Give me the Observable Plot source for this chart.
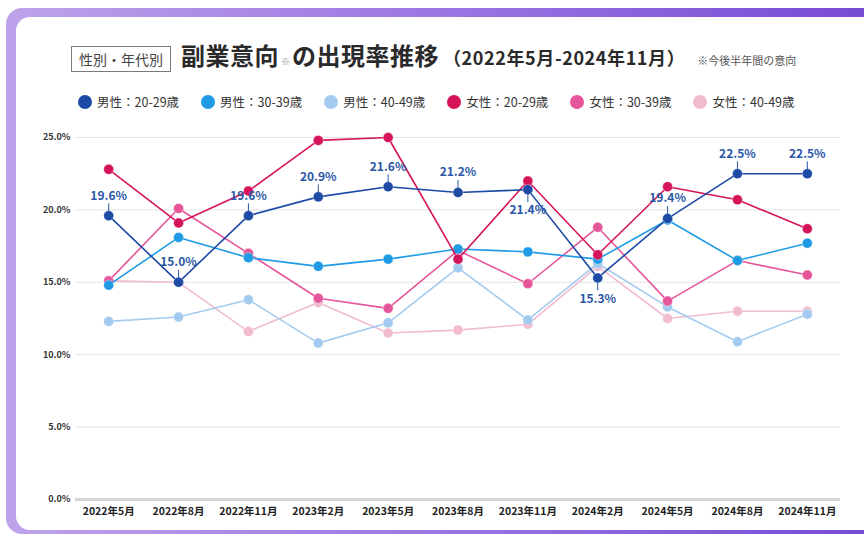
<!DOCTYPE html>
<html><head><meta charset="utf-8">
<script src="https://cdn.jsdelivr.net/npm/d3@7"></script>
<script src="https://cdn.jsdelivr.net/npm/@observablehq/plot@0.6"></script>
<style>
html,body{margin:0;padding:0;}
body{width:864px;height:537px;position:relative;overflow:hidden;background:#fff;font-family:"Noto Sans CJK JP","Noto Sans",sans-serif;}
#frame{position:absolute;left:6px;top:8px;right:-40px;bottom:3px;background:linear-gradient(90deg,#bda3ea,#9a74e2 50%,#7547d3);border-radius:16px;}
#card{position:absolute;left:16px;top:17px;right:-30px;bottom:7px;background:#fff;border-radius:14px;}
#title{position:absolute;left:71px;top:42px;display:flex;align-items:baseline;white-space:nowrap;color:#2a2a2a;}
.badge{border:1px solid #7a7a7a;font-size:14px;line-height:20px;padding:2px 7px;color:#444;}
.main{font-size:24px;font-weight:bold;line-height:26px;margin-left:10px;letter-spacing:0.5px;}
.kome{font-size:9px;font-weight:normal;color:#888;margin:0 2px;letter-spacing:0;}
.period{font-size:18px;font-weight:bold;margin-left:4px;letter-spacing:0.6px;}
.note{font-size:11px;color:#555;margin-left:12px;}
#legend{position:absolute;left:78px;top:92px;display:flex;align-items:center;white-space:nowrap;}
.item{display:flex;align-items:center;margin-right:22px;font-size:12.5px;color:#333;}
.sw{width:14px;height:14px;border-radius:50%;margin-right:5px;}
#chart{position:absolute;left:0;top:120px;}
</style>
</head><body>
<div id="frame"></div>
<div id="card"></div>
<div id="title"><span class="badge">性別・年代別</span><span class="main">副業意向<span class="kome">※</span>の出現率推移</span><span class="period">（2022年5月-2024年11月）</span><span class="note">※今後半年間の意向</span></div>
<div id="legend"></div>
<div id="chart"></div>
<script>
const dates = ["2022年5月","2022年8月","2022年11月","2023年2月","2023年5月","2023年8月","2023年11月","2024年2月","2024年5月","2024年8月","2024年11月"];
const seriesNames = ["男性：20-29歳","男性：30-39歳","男性：40-49歳","女性：20-29歳","女性：30-39歳","女性：40-49歳"];
const seriesColors = ["#1c4aa5","#1f9be6","#a3cbef","#d6145a","#e6569a","#f2bbd0"];
const male20 = [19.6,15.0,19.6,20.9,21.6,21.2,21.4,15.3,19.4,22.5,22.5];
const male30 = [14.8,18.1,16.7,16.1,16.6,17.3,17.1,16.6,19.3,16.5,17.7];
const male40 = [12.3,12.6,13.8,10.8,12.2,16.0,12.4,16.3,13.3,10.9,12.8];
const female20 = [22.8,19.1,21.3,24.8,25.0,16.6,22.0,16.9,21.6,20.7,18.7];
const female30 = [15.1,20.1,17.0,13.9,13.2,17.2,14.9,18.8,13.7,16.5,15.5];
const female40 = [15.1,15.0,11.6,13.6,11.5,11.7,12.1,16.1,12.5,13.0,13.0];
const yTicks = [0,5,10,15,20,25];
const labelBelow = ["2023年11月","2024年2月"];

const seriesValues = [male20,male30,male40,female20,female30,female40];
const drawOrder = [5,2,4,1,3,0];

// legend
const lg = document.getElementById("legend");
seriesNames.forEach((n,i)=>{
  const it = document.createElement("div"); it.className="item";
  it.innerHTML = `<span class="sw" style="background:${seriesColors[i]}"></span><span>${n}</span>`;
  lg.appendChild(it);
});

const rowsOf = i => dates.map((d,j)=>({date:d, value:seriesValues[i][j], series:seriesNames[i]}));
const labelColor = "#2b57a7";
const leader = {draw(context, l){ context.moveTo(0,0); context.lineTo(0,-l); }};
const m20rows = rowsOf(0);
const above = m20rows.filter(d=>!labelBelow.includes(d.date));
const below = m20rows.filter(d=>labelBelow.includes(d.date));

const marks = [
  Plot.ruleY(yTicks.filter(d=>d>0), {stroke:"#e4e4e4", strokeWidth:1}),
  Plot.ruleY([0], {stroke:"#d4d4d4", strokeWidth:3}),
  Plot.axisY({ticks:yTicks, tickSize:0, tickPadding:5, fontSize:9, fontWeight:"bold", fill:"#333", tickFormat:d=>d.toFixed(1)+"%", label:null}),
  Plot.axisX({tickSize:0, tickPadding:8, fontSize:10.5, fontWeight:"bold", fill:"#222", label:null})
];
drawOrder.forEach(i=>{
  const rows = rowsOf(i);
  marks.push(Plot.line(rows, {x:"date", y:"value", stroke:seriesColors[i], strokeWidth:1.6}));
  marks.push(Plot.dot(rows, {x:"date", y:"value", r:5, fill:seriesColors[i], stroke:"#fff", strokeWidth:0.6, strokeOpacity:0.6}));
});
marks.push(
  Plot.vector(above, {x:"date", y:"value", length:7, rotate:0, anchor:"start", dy:-5, stroke:labelColor, strokeWidth:1, shape:leader}),
  Plot.vector(below, {x:"date", y:"value", length:7, rotate:180, anchor:"start", dy:5, stroke:labelColor, strokeWidth:1, shape:leader}),
  Plot.text(above, {x:"date", y:"value", text:d=>d.value.toFixed(1)+"%", dy:-20, fill:labelColor, fontSize:12, fontWeight:"bold"}),
  Plot.text(below, {x:"date", y:"value", text:d=>d.value.toFixed(1)+"%", dy:21, fill:labelColor, fontSize:12, fontWeight:"bold"})
);

const chart = Plot.plot({
  width:864, height:410,
  marginLeft:75, marginRight:24, marginTop:17, marginBottom:31,
  style:{fontFamily:"'Noto Sans CJK JP', sans-serif", background:"transparent", overflow:"visible"},
  x:{type:"point", domain:dates, padding:0.475, round:false},
  y:{domain:[0,25]},
  marks
});
document.getElementById("chart").appendChild(chart);
</script>
</body></html>
